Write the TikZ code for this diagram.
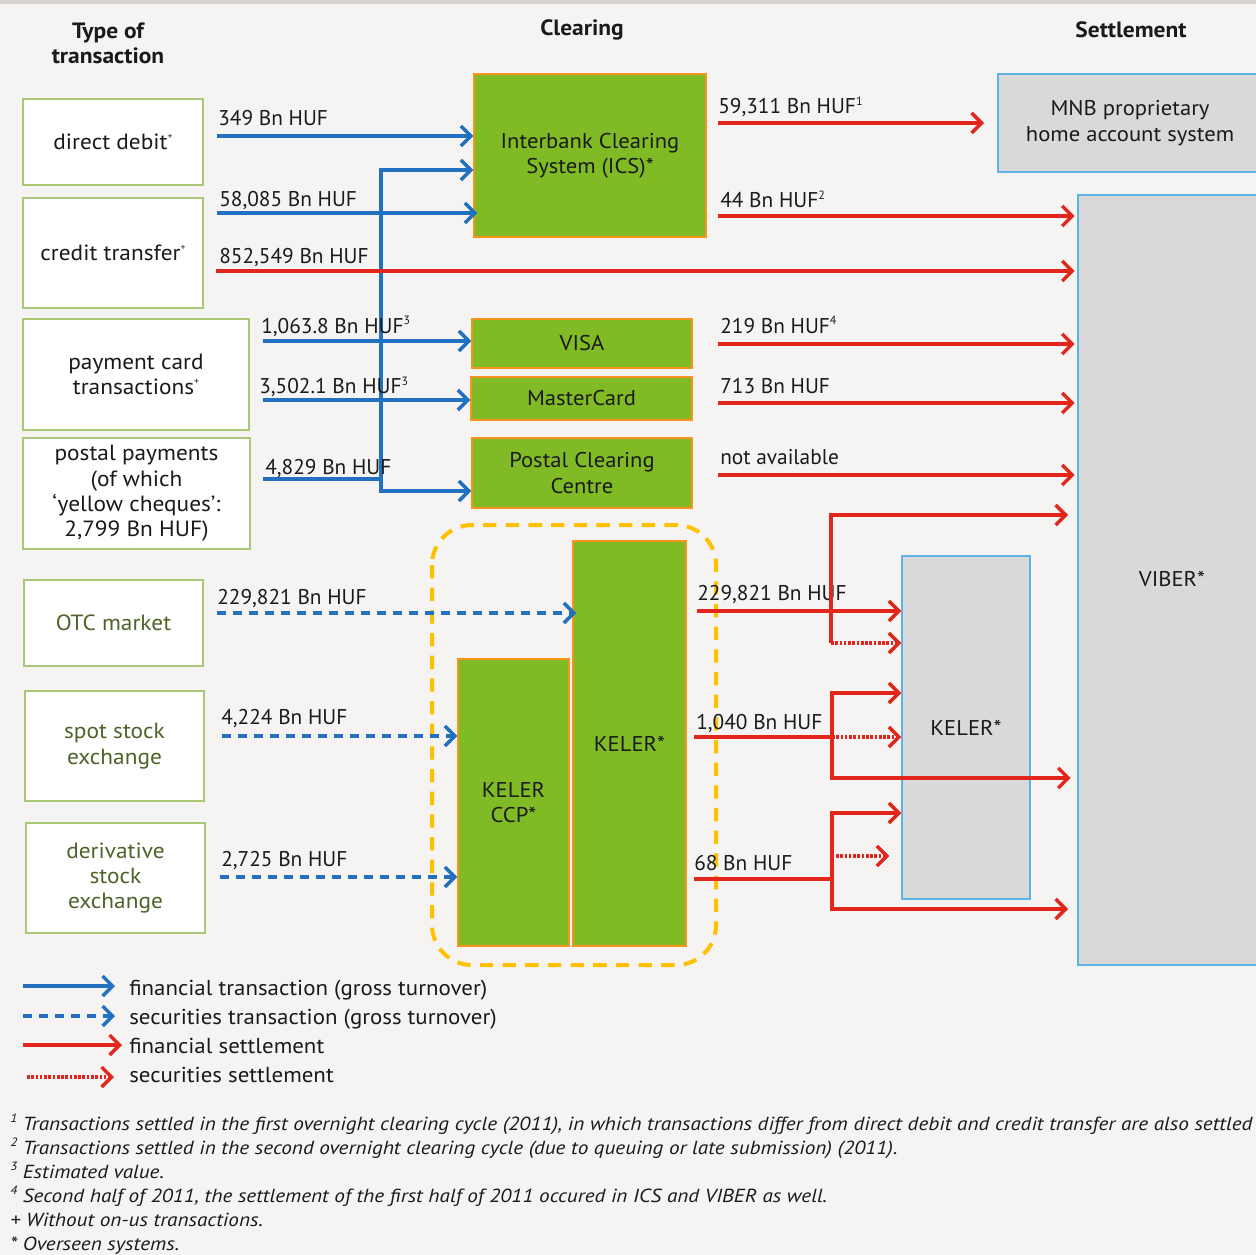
\documentclass[tikz,border=0pt]{standalone}
\usepackage{fontspec}
\setmainfont{PT Sans}[FakeStretch=1.06]
\newfontfamily\lblfont{PT Sans}
\newfontfamily\fnfont{PT Sans}[FakeStretch=1.12]
\usetikzlibrary{arrows.meta}
\newcommand{\supnum}[1]{\raisebox{0.75ex}{\fontsize{9}{9}\selectfont #1}}
\newcommand{\supplus}{\raisebox{0.9ex}{\fontsize{7}{7}\selectfont +}}
\definecolor{bgc}{HTML}{F5F4F2}
\definecolor{topc}{HTML}{D8D5D1}
\definecolor{bl}{HTML}{2271C0}
\definecolor{rd}{HTML}{E3261B}
\definecolor{grn}{HTML}{80BA24}
\definecolor{orng}{HTML}{F7941D}
\definecolor{greyf}{HTML}{D9D9D9}
\definecolor{setb}{HTML}{5BB3E6}
\definecolor{srcb}{HTML}{A8C878}
\definecolor{olive}{HTML}{4F6228}
\definecolor{yel}{HTML}{FFC000}
\definecolor{txt}{HTML}{1A1A1A}
\begin{document}
\begin{tikzpicture}[x=0.75pt,y=-0.75pt,
  font=\fontsize{16}{19}\selectfont, text=txt,
  >={Straight Barb[length=7.5pt,width=15pt]},
  srcbox/.style={draw=srcb, fill=white, line width=1pt, align=center, inner sep=0pt, font=\fontsize{16.5}{19}\selectfont},
  clrbox/.style={draw=orng, fill=grn, line width=1pt, align=center, inner sep=0pt},
  setbox/.style={draw=setb, fill=greyf, line width=1pt, align=center, inner sep=0pt},
  dim/.style 2 args={minimum width=#1*0.75pt, minimum height=#2*0.75pt},
  lbl/.style={anchor=base west, inner sep=0pt, font=\lblfont\fontsize{16}{19}\selectfont},
  lgd/.style={anchor=base west, inner sep=0pt, font=\fontsize{16.2}{19}\selectfont},
  fin/.style={draw=bl, line width=2.6pt, ->},
  sec/.style={fin, dash pattern=on 7pt off 5pt},
  fset/.style={draw=rd, line width=2.6pt, ->},
  fline/.style={draw=rd, line width=2.6pt},
  bline/.style={draw=bl, line width=2.6pt},
  sset/.style={fset, dash pattern=on 2pt off 1.2pt},
  hdr/.style={font=\fontsize{16.6}{19}\selectfont\bfseries, align=center, inner sep=0pt},
  fnote/.style={anchor=base west, inner sep=0pt, font=\fnfont\fontsize{14.2}{17}\selectfont\itshape}
]
\useasboundingbox (0,0) rectangle (1256,1255);
\fill[bgc] (0,0) rectangle (1256,1255);
\fill[topc] (0,0) rectangle (1256,4);

% headers
\node[hdr] (h1) at (108,43) {Type of\\transaction};
\node[hdr] (h2) at (582,30) {Clearing};
\node[hdr] (h3) at (1131,30) {Settlement};

% source boxes
\node[srcbox, dim={180}{86}] (dd) at (113,142) {direct debit\supplus};
\node[srcbox, dim={180}{110}] (ct) at (113,253) {credit transfer\supplus};
\node[srcbox, dim={226}{111}] (pc) at (136,374.5) {payment card\\transactions\supplus};
\node[srcbox, dim={227}{111}] (pp) at (136.5,493.5) {postal payments\\(of which\\‘yellow cheques’:\\2,799 Bn HUF)};
\node[srcbox, dim={179}{86}, text=olive] (otc) at (113.5,623) {OTC market};
\node[srcbox, dim={179}{110}, text=olive] (spot) at (114.5,746) {spot stock\\exchange};
\node[srcbox, dim={179}{110}, text=olive] (der) at (115.5,878) {derivative\\stock\\exchange};

% clearing boxes
\node[clrbox, dim={232}{163}] (ics) at (590,155.5) {Interbank Clearing\\System (ICS)*};
\node[clrbox, dim={220}{49}] (visa) at (582,343.5) {VISA};
\node[clrbox, dim={221}{43}] (mc) at (581.5,398.5) {MasterCard};
\node[clrbox, dim={220}{70}] (pcc) at (582,473) {Postal Clearing\\Centre};
\draw[yel, line width=3pt, dash pattern=on 10pt off 7pt, rounded corners=30pt] (432,525) rectangle (716,965);
\node[clrbox, dim={113}{405}] (keler) at (629.5,743.5) {KELER*};
\node[clrbox, dim={111}{287}] (ccp) at (513.5,802.5) {KELER\\CCP*};

% settlement boxes
\node[setbox, dim={264}{98}] (mnb) at (1130,123) {MNB proprietary\\home account system};
\node[setbox, dim={184}{770}] (viber) at (1170,580) {};
\node (vibert) at (1172,579) {VIBER*};
\node[setbox, dim={128}{343}] (kelers) at (966,727.5) {KELER*};

% blue financial transactions
\coordinate (s349) at (217,136);
\draw[fin] (s349) -- (ics.west |- s349);
\node[lbl] (l349) at (218,126) {349 Bn HUF};
\coordinate (s58) at (217,213);
\draw[fin, shorten >=-3pt] (s58) -- (ics.west |- s58);
\node[lbl] (l58) at (219,207) {58,085 Bn HUF};
\coordinate (vt) at (381,170);
\coordinate (vb) at (381,491);
\draw[fin, <->] (ics.west |- vt) -- (vt) -- (vb) -- (pcc.west |- vb);
\coordinate (s1063) at (263,341);
\draw[fin] (s1063) -- (visa.west |- s1063);
\node[lbl] (l1063) at (261,333) {1,063.8 Bn HUF\supnum{3}};
\coordinate (s3502) at (263,400);
\draw[fin] (s3502) -- (mc.west |- s3502);
\node[lbl] (l3502) at (259,393) {3,502.1 Bn HUF\supnum{3}};
\coordinate (s4829) at (263,479);
\draw[bline] (s4829) -- (s4829 -| vt);
\node[lbl] (l4829) at (265,474) {4,829 Bn HUF};

% red direct
\coordinate (s852) at (216,271);
\draw[fset, shorten >=2pt] (s852) -- (viber.west |- s852);
\node[lbl] (l852) at (219,263) {852,549 Bn HUF};

% red from clearing
\coordinate (r59) at (718,123);
\draw[fset, shorten >=10pt] (r59) -- (mnb.west |- r59);
\node[lbl] (l59) at (718,114) {59,311 Bn HUF\supnum{1}};
\coordinate (r44) at (718,216);
\draw[fset, shorten >=2pt] (r44) -- (viber.west |- r44);
\node[lbl] (l44) at (720,208) {44 Bn HUF\supnum{2}};
\coordinate (r219) at (718,344);
\draw[fset, shorten >=2pt] (r219) -- (viber.west |- r219);
\node[lbl] (l219) at (720,333) {219 Bn HUF\supnum{4}};
\coordinate (r713) at (718,403);
\draw[fset, shorten >=2pt] (r713) -- (viber.west |- r713);
\node[lbl] (l713) at (720,393) {713 Bn HUF};
\coordinate (rna) at (718,475);
\draw[fset, shorten >=2pt] (rna) -- (viber.west |- rna);
\node[lbl] (lna) at (720,464) {not available};

% securities transactions
\coordinate (s229) at (217,613);
\draw[sec, shorten >=-3pt] (s229) -- (keler.west |- s229);
\node[lbl] (l229) at (217,604) {229,821 Bn HUF};
\coordinate (s4224) at (222,736);
\draw[sec] (s4224) -- (ccp.west |- s4224);
\node[lbl] (l4224) at (221,724) {4,224 Bn HUF};
\coordinate (s2725) at (220,877);
\draw[sec] (s2725) -- (ccp.west |- s2725);
\node[lbl] (l2725) at (221,866) {2,725 Bn HUF};

% settlement from KELER
\coordinate (k229) at (697,611);
\draw[fset] (k229) -- (kelers.west |- k229);
\node[lbl] (lk229) at (697,600) {229,821 Bn HUF};
\coordinate (k229t) at (831,515);
\coordinate (k229b) at (831,643);
\draw[fset, shorten >=7pt] (k229b) -- (k229t) -- (viber.west |- k229t);
\draw[sset] (k229b) -- (kelers.west |- k229b);

\coordinate (k1040) at (694,737);
\coordinate (k1040t) at (832,693);
\coordinate (k1040m) at (832,737);
\coordinate (k1040b) at (832,778);
\draw[fline] (k1040) -- (k1040m);
\draw[fset, <->, shorten >=5pt] (kelers.west |- k1040t) -- (k1040t) -- (k1040b) -- (viber.west |- k1040b);
\draw[sset] (k1040m) -- (kelers.west |- k1040m);
\node[lbl] (lk1040) at (696,729) {1,040 Bn HUF};

\coordinate (k68) at (694,879);
\coordinate (k68t) at (832,813);
\coordinate (k68m) at (832,879);
\coordinate (k68b) at (832,909);
\coordinate (k68d) at (836,856);
\draw[fline] (k68) -- (k68m);
\draw[fset, <->, shorten >=7pt] (kelers.west |- k68t) -- (k68t) -- (k68b) -- (viber.west |- k68b);
\draw[sset, shorten >=9pt] (k68d) -- (kelers.west |- k68d);
\node[lbl] (lk68) at (694,870) {68 Bn HUF};

% legend
\coordinate (g1a) at (23,986); \coordinate (g1b) at (115,986);
\coordinate (g2a) at (23,1016); \coordinate (g2b) at (115,1016);
\coordinate (g3a) at (23,1045); \coordinate (g3b) at (122,1045);
\coordinate (g4a) at (27,1077); \coordinate (g4b) at (114,1077);
\draw[fin] (g1a) -- (g1b);
\draw[sec] (g2a) -- (g2b);
\draw[fset] (g3a) -- (g3b);
\draw[sset] (g4a) -- (g4b);
\node[lgd] (t1) at (129,995) {financial transaction (gross turnover)};
\node[lgd] (t2) at (129,1024) {securities transaction (gross turnover)};
\node[lgd] (t3) at (129,1053) {financial settlement};
\node[lgd] (t4) at (129,1082) {securities settlement};

% footnotes
\node[fnote] (f1) at (10,1130) {\supnum{1} Transactions settled in the first overnight clearing cycle (2011), in which transactions differ from direct debit and credit transfer are also settled};
\node[fnote] (f2) at (10,1154) {\supnum{2} Transactions settled in the second overnight clearing cycle (due to queuing or late submission) (2011).};
\node[fnote] (f3) at (10,1178) {\supnum{3} Estimated value.};
\node[fnote] (f4) at (10,1202) {\supnum{4} Second half of 2011, the settlement of the first half of 2011 occured in ICS and VIBER as well.};
\node[fnote] (f5) at (10,1226) {+ Without on-us transactions.};
\node[fnote] (f6) at (10,1250) {* Overseen systems.};
\end{tikzpicture}
\end{document}
